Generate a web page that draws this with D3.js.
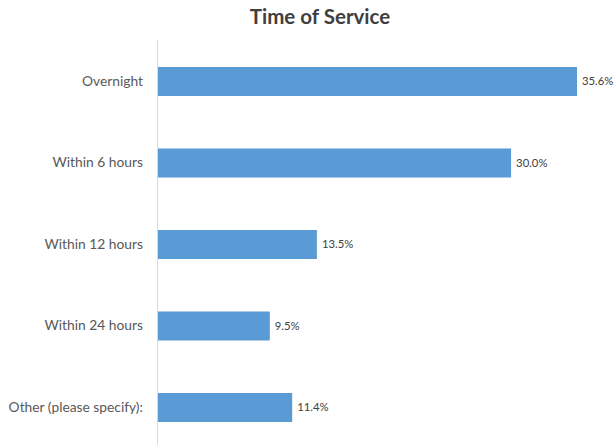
<!DOCTYPE html>
<html><head><meta charset="utf-8">
<script src="https://cdn.jsdelivr.net/npm/d3@7"></script>
<style>body{margin:0;background:#fff}svg{display:block}</style>
</head><body><div id="chart"></div>
<script>
const categories = ["Overnight","Within 6 hours","Within 12 hours","Within 24 hours","Other (please specify):"];
const values = [35.6, 30.0, 13.5, 9.5, 11.4];
const valueLabels = ["35.6%","30.0%","13.5%","9.5%","11.4%"];
const title = "Time of Service";

const W = 616, H = 445;
const svg = d3.select("#chart").append("svg").attr("width", W).attr("height", H);
const font = "Lato, 'Open Sans', sans-serif";

const x = d3.scaleLinear().domain([0, 35.6]).range([158, 577]);
const y = d3.scaleBand().domain(categories).range([40.75, 448.25]).paddingInner(0.644).paddingOuter(0.322);

svg.append("text").attr("x", 320).attr("y", 24).attr("text-anchor","middle")
  .attr("font-family", font).attr("font-weight","bold").attr("font-size", 20.5).attr("fill","#404040").text(title);

svg.selectAll("rect.bar").data(values).join("rect").attr("class","bar")
  .attr("x", x(0)).attr("y", (d,i)=>y(categories[i])).attr("width", d=>x(d)-x(0))
  .attr("height", y.bandwidth()).attr("fill","#5b9bd5");

svg.append("line").attr("x1",157.5).attr("x2",157.5).attr("y1",40).attr("y2",H).attr("stroke","#d9d9d9").attr("stroke-width",1);

const yAxis = d3.axisLeft(y).tickSize(0).tickPadding(15);
const g = svg.append("g").attr("transform","translate(158,0)").call(yAxis);
g.select(".domain").remove();
g.selectAll("text").attr("font-family", font).attr("font-size", 13.8).attr("fill","#595959");

svg.selectAll("text.val").data(values).join("text").attr("class","val")
  .attr("x", d=>x(d)+5).attr("y", (d,i)=>y(categories[i])+y.bandwidth()/2).attr("dy","0.35em")
  .attr("font-family", font).attr("font-size", 11.3).attr("fill","#404040").text((d,i)=>valueLabels[i]);
</script></body></html>
